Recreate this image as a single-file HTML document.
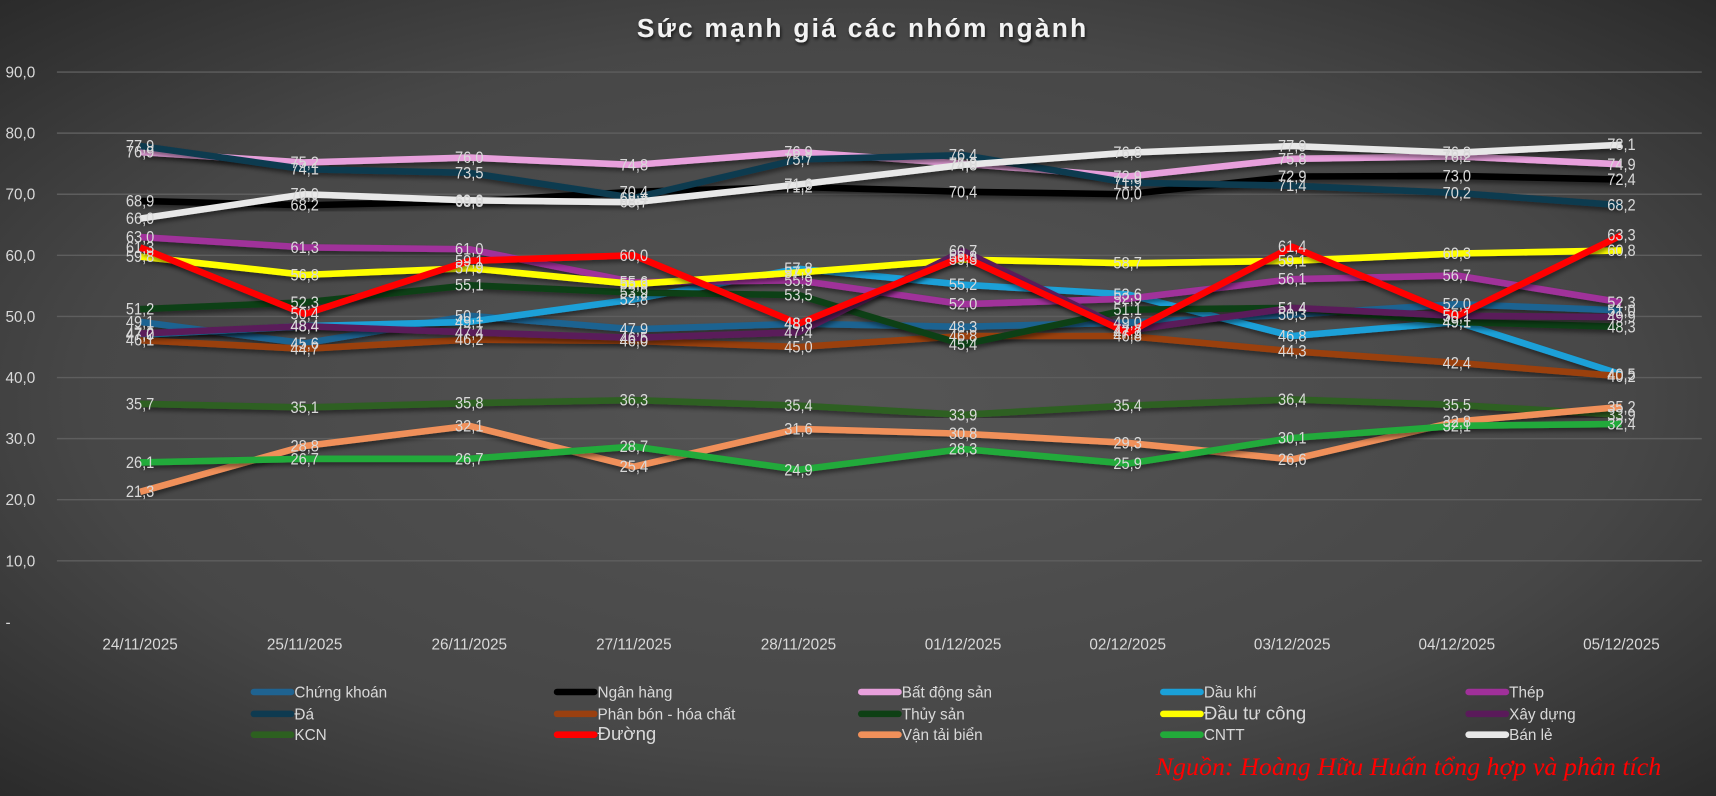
<!DOCTYPE html>
<html><head><meta charset="utf-8"><style>
html,body{margin:0;padding:0;background:#3a3a3a;}
svg{display:block}
</style></head><body>
<svg id="c" width="1716" height="796" viewBox="0 0 1568 727" preserveAspectRatio="none" xmlns="http://www.w3.org/2000/svg">
<defs>
<radialGradient id="bg" cx="50%" cy="50%" r="75%">
<stop offset="0" stop-color="#555555"/><stop offset="0.6" stop-color="#474747"/><stop offset="1" stop-color="#262626"/>
</radialGradient>
<filter id="sh" x="-5%" y="-20%" width="110%" height="140%"><feDropShadow dx="1" dy="3" stdDeviation="2" flood-color="#000" flood-opacity="0.45"/></filter>
<filter id="ts"><feDropShadow dx="1" dy="2" stdDeviation="1.5" flood-color="#000" flood-opacity="0.7"/></filter>
</defs>
<rect width="1568" height="727" fill="url(#bg)"/>
<text x="788" y="34" text-anchor="middle" fill="#f2f2f2" font-family="'Liberation Sans',sans-serif" font-weight="bold" font-size="24" letter-spacing="1.5" textLength="412" filter="url(#ts)">Sức mạnh giá các nhóm ngành</text>
<g id="grid"></g><g id="lines"></g><g id="labels"></g><g id="legend"></g>
<text x="1056" y="708" fill="#ff0000" font-family="'Liberation Serif',serif" font-style="italic" font-size="23" textLength="462" lengthAdjust="spacingAndGlyphs">Nguồn: Hoàng Hữu Huấn tổng hợp và phân tích</text>
</svg>
<script>
const NS="http://www.w3.org/2000/svg";
function el(p,t,a,txt){const e=document.createElementNS(NS,t);for(const k in a)e.setAttribute(k,a[k]);if(txt!==undefined)e.textContent=txt;document.getElementById(p).appendChild(e);return e;}
const F="'Liberation Sans Narrow','Liberation Sans',sans-serif";
const y=v=>568-v*5.58, x=i=>128+i*150.4;
for(let v=0;v<=90;v+=10){
 if(v>0) el("grid","line",{x1:52,x2:1555,y1:y(v),y2:y(v),stroke:"#5e5e5e","stroke-width":1.3});
 el("grid","text",{x:5,y:y(v)+5,fill:"#d9d9d9","font-family":F,"font-size":14},v==0?"-":v+",0");
}
const dates=["24/11/2025","25/11/2025","26/11/2025","27/11/2025","28/11/2025","01/12/2025","02/12/2025","03/12/2025","04/12/2025","05/12/2025"];
dates.forEach((d,i)=>el("grid","text",{x:x(i),y:593,"text-anchor":"middle",fill:"#d9d9d9","font-family":F,"font-size":14},d));
const S=[
["Chứng khoán","#1f6391",[49.1,45.6,50.1,47.9,48.8,48.3,49.0,50.3,52.0,51.0]],
["Ngân hàng","#000000",[68.9,68.2,68.8,70.4,71.2,70.4,70.0,72.9,73.0,72.4]],
["Bất động sản","#e8a0dc",[76.9,75.2,76.0,74.8,76.9,75.0,72.9,75.8,76.2,74.9]],
["Dầu khí","#1aa0d8",[47.0,48.4,49.1,52.8,57.8,55.2,53.6,46.8,49.1,40.5]],
["Thép","#a0309a",[63.0,61.3,61.0,55.6,55.9,52.0,52.9,56.1,56.7,52.3]],
["Đá","#0e3a50",[77.9,74.1,73.5,69.4,75.7,76.4,71.9,71.4,70.2,68.2]],
["Phân bón - hóa chất","#9a4010",[46.1,44.7,46.2,46.0,45.0,46.8,46.8,44.3,42.4,40.2]],
["Thủy sản","#0e4014",[51.2,52.3,55.1,53.9,53.5,45.4,51.1,51.4,49.1,48.3]],
["Đầu tư công","#ffff00",[59.8,56.8,57.9,55.3,57.2,59.3,58.7,59.1,60.3,60.8]],
["Xây dựng","#5a1a5a",[47.2,48.4,47.4,46.5,47.4,60.7,47.7,51.4,50.1,49.9]],
["KCN","#2d6020",[35.7,35.1,35.8,36.3,35.4,33.9,35.4,36.4,35.5,33.9]],
["Đường","#ff0000",[61.3,50.4,59.1,60.0,48.8,59.8,47.3,61.4,50.1,63.3]],
["Vận tải biển","#f0905a",[21.3,28.8,32.1,25.4,31.6,30.8,29.3,26.6,32.8,35.2]],
["CNTT","#22aa3a",[26.1,26.7,26.7,28.7,24.9,28.3,25.9,30.1,32.1,32.4]],
["Bán lẻ","#e8e8e8",[66.0,70.0,69.0,68.7,71.6,74.8,76.8,77.9,76.8,78.1]]];
S.forEach(s=>{
 el("lines","polyline",{points:s[2].map((v,i)=>x(i)+","+y(v)).join(" "),fill:"none",stroke:s[1],"stroke-width":6,"stroke-linejoin":"round",filter:"url(#sh)"});
 s[2].forEach((v,i)=>el("labels","text",{x:x(i),y:y(v)+5,"text-anchor":"middle",fill:"#d9d9d9","font-family":F,"font-size":15,textLength:26,lengthAdjust:"spacingAndGlyphs"},v.toFixed(1).replace(".",",")));
});
const cols=[229,506,784,1060,1339], rows=[632,652,671];
S.forEach((s,k)=>{
 const cx=cols[k%5], cy=rows[Math.floor(k/5)];
 el("legend","line",{x1:cx+3,x2:cx+37,y1:cy,y2:cy,stroke:s[1],"stroke-width":6,"stroke-linecap":"round"});
 const big=(s[0]=="Đầu tư công"||s[0]=="Đường");
 el("legend","text",{x:cx+40,y:cy+5,fill:"#d9d9d9","font-family":F,"font-size":big?17:14},s[0]);
});
</script>
</body></html>
